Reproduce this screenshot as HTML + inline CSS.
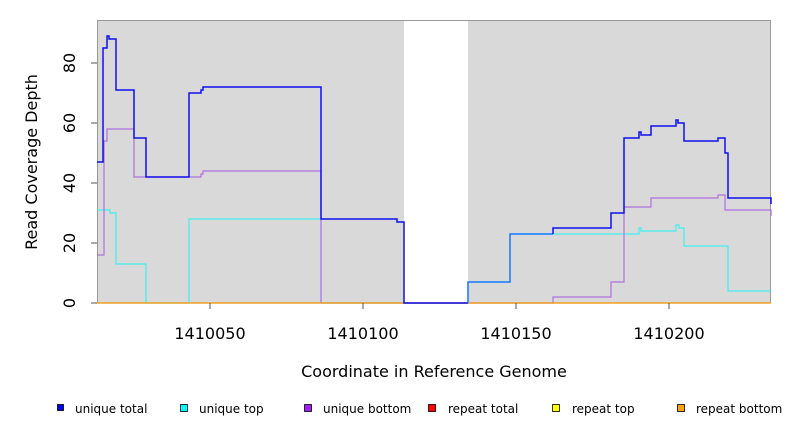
<!DOCTYPE html><html><head><style>body{margin:0;background:#fff}svg{display:block}text{font-family:"DejaVu Sans","Liberation Sans",sans-serif}</style></head><body>
<svg width="792" height="432" xmlns="http://www.w3.org/2000/svg">
<rect x="97" y="20" width="674" height="283" fill="#d9d9d9"/>
<rect x="404" y="20" width="64" height="283" fill="#fff"/>
<line x1="404" y1="20.5" x2="468" y2="20.5" stroke="#777"/>
<rect x="97.5" y="20.5" width="673" height="282.5" fill="none" stroke="#999"/>
<g fill="none" stroke-width="1.2">
<polyline stroke="#40f0f0" points="97,210 110,210 110,213 116,213 116,264 146,264 146,303 189,303 189,219 321,219 321,303 404,303 468,303 468,282 510,282 510,234 639,234 639,228 641,228 641,231 676,231 676,225 679,225 679,228 684,228 684,246 728,246 728,291 771,291"/>
<polyline stroke="#b070e0" points="97,255 104,255 104,141 107,141 107,129 134,129 134,177 201,177 201,174 203,174 203,171 321,171 321,303 553,303 553,297 611,297 611,282 624,282 624,207 651,207 651,198 718,198 718,195 725,195 725,210 771,210 771,216"/>
<line x1="97" y1="303" x2="771" y2="303" stroke="#f0a020" stroke-width="1.5"/>
<polyline stroke="#1010f0" stroke-width="1.5" points="97,162 103,162 103,48 107,48 107,36 109,36 109,39 116,39 116,90 134,90 134,138 146,138 146,177 189,177 189,93 201,93 201,90 203,90 203,87 321,87 321,219 397,219 397,222 404,222 404,303 468,303"/>
<polyline stroke="#1e78ff" stroke-width="1.5" points="468,303 468,282 510,282 510,234 553,234"/>
<polyline stroke="#1010f0" stroke-width="1.5" points="553,234 553,228 611,228 611,213 624,213 624,138 639,138 639,132 641,132 641,135 651,135 651,126 676,126 676,120 678,120 678,123 684,123 684,141 718,141 718,138 725,138 725,153 728,153 728,198 771,198 771,204"/>
</g>
<g stroke="#555"><line x1="91" y1="303" x2="97" y2="303"/><line x1="91" y1="243" x2="97" y2="243"/><line x1="91" y1="183" x2="97" y2="183"/><line x1="91" y1="123" x2="97" y2="123"/><line x1="91" y1="63" x2="97" y2="63"/>
<line x1="210" y1="303" x2="210" y2="309"/><line x1="363" y1="303" x2="363" y2="309"/><line x1="516" y1="303" x2="516" y2="309"/><line x1="669" y1="303" x2="669" y2="309"/></g>
<g font-size="16" fill="#000" text-anchor="middle">
<text transform="translate(75,303) rotate(-90)">0</text>
<text transform="translate(75,243) rotate(-90)">20</text>
<text transform="translate(75,183) rotate(-90)">40</text>
<text transform="translate(75,123) rotate(-90)">60</text>
<text transform="translate(75,63) rotate(-90)">80</text>
<text x="210" y="339">1410050</text><text x="363" y="339">1410100</text><text x="516" y="339">1410150</text><text x="669" y="339">1410200</text>
<text x="434" y="377">Coordinate in Reference Genome</text>
<text transform="translate(37,162) rotate(-90)">Read Coverage Depth</text>
</g>
<g font-size="12" stroke="#000" stroke-width="0.8">
<rect x="57.5" y="404.5" width="6" height="6" fill="#0000ff"/><rect x="180.5" y="404.5" width="7" height="7" fill="#00ffff"/><rect x="304.5" y="404.5" width="7" height="7" fill="#a020f0"/><rect x="428.5" y="404.5" width="7" height="7" fill="#ff0000"/><rect x="552.5" y="404.5" width="7" height="7" fill="#ffff00"/><rect x="677.5" y="404.5" width="7" height="7" fill="#ffa500"/>
</g>
<g font-size="12" fill="#000">
<text x="75" y="413">unique total</text><text x="199" y="413">unique top</text><text x="323" y="413">unique bottom</text><text x="448" y="413">repeat total</text><text x="572" y="413">repeat top</text><text x="696" y="413">repeat bottom</text>
</g>
</svg></body></html>
